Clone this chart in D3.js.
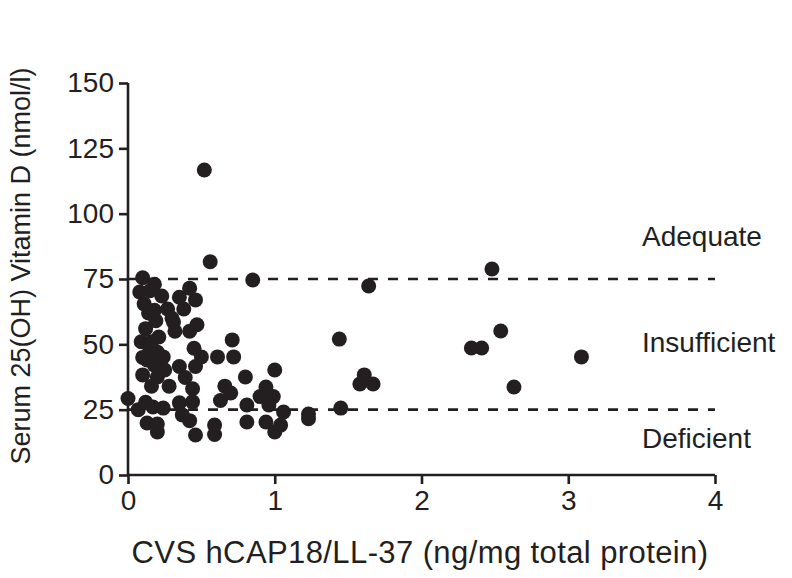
<!DOCTYPE html>
<html>
<head>
<meta charset="utf-8">
<script src="https://cdn.jsdelivr.net/npm/d3@7"></script>
<style>
  body { margin: 0; background: #fff; }
  text { font-family: "Liberation Sans", Arial, sans-serif; fill: #231f20; }
</style>
</head>
<body>
<div id="chart"></div>
<script>
// hCAP18/LL-37 (ng/mg) vs serum 25(OH)D (nmol/l)
var ll37 = [0.00, 0.07, 0.10, 0.08, 0.11, 0.12, 0.09, 0.10, 0.10, 0.12, 0.13,
    0.18, 0.23, 0.15, 0.14, 0.19, 0.21, 0.15, 0.24, 0.18, 0.25, 0.20, 0.16, 0.17, 0.24, 0.20, 0.20, 0.13, 0.20, 0.16, 0.18,
    0.27, 0.38, 0.31, 0.32, 0.35, 0.42, 0.35, 0.39, 0.35, 0.37, 0.30, 0.28,
    0.46, 0.47, 0.42, 0.45, 0.46, 0.44, 0.44, 0.42, 0.46, 0.50, 0.52, 0.56,
    0.61, 0.72, 0.71, 0.63, 0.66, 0.70, 0.59, 0.59, 0.80,
    0.85, 1.00, 0.94, 0.90, 0.99, 0.96, 0.81, 1.06, 0.81, 0.94, 1.04, 1.00,
    1.23, 1.23, 1.44, 1.45, 1.58, 1.61, 1.67, 1.64, 2.34, 2.41, 2.48, 2.54, 2.63, 3.09];
var vitD = [29.3, 25.0, 75.5, 70.0, 65.5, 56.0, 51.0, 45.0, 38.3, 27.8, 19.9,
    73.0, 68.5, 70.5, 62.0, 59.0, 52.8, 48.0, 45.2, 42.0, 40.2, 37.5, 34.0, 26.0, 25.6, 19.5, 16.5, 44.0, 47.0, 51.0, 63.0,
    63.5, 63.5, 58.5, 55.0, 68.0, 71.5, 41.5, 37.3, 27.6, 23.0, 60.0, 34.0,
    67.0, 57.5, 55.0, 48.5, 41.5, 33.0, 28.0, 20.8, 15.3, 45.2, 116.7, 81.6,
    45.2, 45.2, 51.7, 28.5, 34.0, 31.4, 19.1, 15.5, 37.5,
    74.6, 40.2, 33.7, 30.0, 30.0, 26.8, 26.8, 24.1, 20.3, 20.3, 19.1, 16.5,
    23.3, 21.5, 52.0, 25.6, 34.8, 38.3, 34.8, 72.3, 48.6, 48.6, 78.8, 55.1, 33.7, 45.2];
var xTicks = [0, 1, 2, 3, 4];
var yTicks = [0, 25, 50, 75, 100, 125, 150];
var cutoffs = [75, 25];
var zones = ['Adequate', 'Insufficient', 'Deficient'];
var zoneAt = [87.5, 47, 10.5];

var width = 792, height = 578;
var svg = d3.select('#chart').append('svg').attr('width', width).attr('height', height);

var x = d3.scaleLinear().domain([0, 4]).range([128, 715]);
var y = d3.scaleLinear().domain([0, 150]).range([475, 83]);

var ink = '#231f20';

// cut-off lines
svg.selectAll('.cut').data(cutoffs).enter().append('line')
    .attr('x1', x(0)).attr('x2', x(4))
    .attr('y1', d => y(d)).attr('y2', d => y(d))
    .attr('stroke', ink).attr('stroke-width', 2.6)
    .attr('stroke-dasharray', '10,10');

svg.selectAll('.zone').data(zones).enter().append('text')
    .attr('x', 642).attr('y', (d, i) => y(zoneAt[i]))
    .attr('font-size', 28)
    .text(d => d);

// points
svg.append('g').selectAll('circle').data(ll37).enter().append('circle')
    .attr('cx', d => x(d)).attr('cy', (d, i) => y(vitD[i]))
    .attr('r', 7.5).attr('fill', ink);

// axes
var xAxis = svg.append('g').attr('transform', `translate(0,${y(0)})`)
    .call(d3.axisBottom(x).tickValues(xTicks).tickSize(9).tickPadding(6).tickFormat(d3.format('d')));
var yAxis = svg.append('g').attr('transform', `translate(${x(0)},0)`)
    .call(d3.axisLeft(y).tickValues(yTicks).tickSize(9).tickPadding(5));

[xAxis, yAxis].forEach(function (a) {
    a.select('.domain').attr('stroke', ink).attr('stroke-width', 2.6);
    a.selectAll('.tick line').attr('stroke', ink).attr('stroke-width', 2.6);
    a.selectAll('.tick text').attr('font-size', 28).attr('fill', ink)
        .style('font-family', '"Liberation Sans", Arial, sans-serif');
});
xAxis.select('.domain').attr('d', `M${x(0)},0H${x(4)}`);
yAxis.select('.domain').attr('d', `M0,${y(0)}V${y(150)}`);

svg.append('text')
    .attr('x', 420).attr('y', 563)
    .attr('text-anchor', 'middle').attr('font-size', 31)
    .attr('letter-spacing', 0.4)
    .text('CVS hCAP18/LL-37 (ng/mg total protein)');

svg.append('text')
    .attr('transform', `translate(30,266)rotate(-90)`)
    .attr('text-anchor', 'middle').attr('font-size', 27)
    .text('Serum 25(OH) Vitamin D (nmol/l)');
</script>
</body>
</html>
